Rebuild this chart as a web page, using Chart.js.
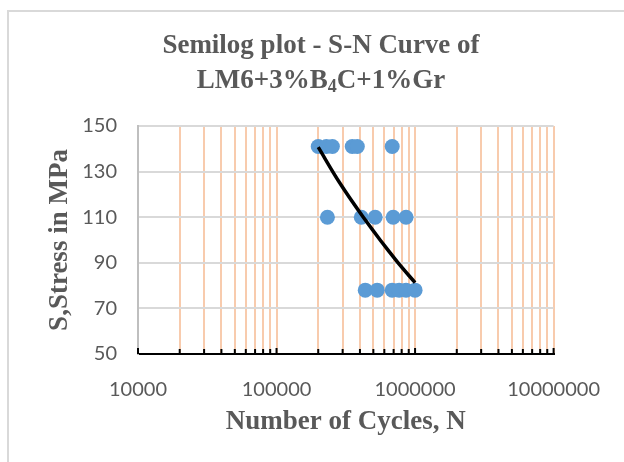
<!DOCTYPE html>
<html>
<head>
<meta charset="UTF-8" />
<title>Semilog plot - S-N Curve</title>
<script src="https://cdn.jsdelivr.net/npm/chart.js@4"></script>
<style>
  body { margin: 0; background: #fff; }
  #wrap { position: relative; width: 624px; height: 462px; overflow: hidden; }
  #frame { position: absolute; left: 7px; top: 10px; width: 700px; height: 500px;
           border-left: 2px solid #d9d9d9; border-top: 2px solid #d9d9d9; }
  #title { position: absolute; left: 0; width: 642px; top: 27px; text-align: center;
           font: bold 27px "Liberation Serif", "Times New Roman", serif; color: #595959; line-height: 35px; }
  #title sub { font-size: 18px; line-height: 0; vertical-align: -4px; }
  canvas { position: absolute; left: 0; top: 0; }
</style>
</head>
<body>
<div id="wrap">
  <div id="frame"></div>
  <canvas id="sn" width="624" height="462"></canvas>
  <div id="title">Semilog plot - S-N Curve of<br>LM6+3%B<sub>4</sub>C+1%Gr</div>
</div>

<script>
// --- data ---
const stressHigh = 141;
const cyclesHigh = [200000, 229000, 253000, 352000, 383000, 684000];
const stressMid = 110;
const cyclesMid = [233000, 409000, 515000, 695000, 861000];
const stressLow = 78;
const cyclesLow = [437000, 533000, 684000, 767000, 861000, 1000000];

// trend curve, read at a few places along the black line
const trendCycles = [200000, 284000, 423000, 742000, 1000000];
const trendStress = [140.7, 125.3, 110.0, 90.5, 81.3];

const decades = [10000, 100000, 1000000];
const multipliers = [1, 2, 3, 4, 5, 6, 7, 8, 9];
const xMin = 10000, xMax = 10000000;
const yMin = 50, yMax = 150, yStep = 20;

// tick values for the log axis: 1..9 in each decade
const xTicks = [];
decades.forEach(d => multipliers.forEach(m => xTicks.push(d * m)));
xTicks.push(xMax);

const points = [];
cyclesHigh.forEach(c => points.push({ x: c, y: stressHigh }));
cyclesMid.forEach(c => points.push({ x: c, y: stressMid }));
cyclesLow.forEach(c => points.push({ x: c, y: stressLow }));

const trend = trendCycles.map((c, i) => ({ x: c, y: trendStress[i] }));

const isMajor = v => Math.abs(Math.log10(v) - Math.round(Math.log10(v))) < 1e-9;

// small tick marks standing inside the plot on the x axis
const innerTicks = {
  id: 'innerTicks',
  afterDatasetsDraw(chart) {
    const x = chart.scales.x;
    const ctx = chart.ctx;
    const base = chart.chartArea.bottom;
    ctx.save();
    ctx.strokeStyle = '#000';
    ctx.lineWidth = 2;
    xTicks.forEach(v => {
      const px = x.getPixelForValue(v);
      const len = isMajor(v) ? 6 : 5;
      ctx.beginPath();
      ctx.moveTo(px, base);
      ctx.lineTo(px, base - len);
      ctx.stroke();
    });
    ctx.restore();
  }
};

const titleFont = { family: '"Liberation Serif", "Times New Roman", serif', size: 27, weight: 'bold' };
const tickFont = { family: 'Lato, "Liberation Sans", sans-serif', size: 20 };

new Chart(document.getElementById('sn'), {
  type: 'scatter',
  data: {
    datasets: [
      {
        type: 'line',
        label: 'Trend',
        data: trend,
        borderColor: '#000',
        borderWidth: 3.5,
        pointRadius: 0,
        cubicInterpolationMode: 'monotone',
        fill: false,
        order: 0
      },
      {
        label: 'S-N data',
        data: points,
        backgroundColor: '#5b9bd5',
        borderColor: '#5b9bd5',
        borderWidth: 0,
        pointRadius: 7.5,
        order: 1
      }
    ]
  },
  options: {
    responsive: false,
    animation: false,
    layout: { padding: { top: 126, right: 69, bottom: 0, left: 0 } },
    plugins: {
      legend: { display: false },
      tooltip: { enabled: false },
      title: { display: false }
    },
    scales: {
      x: {
        type: 'logarithmic',
        min: xMin,
        max: xMax,
        afterBuildTicks: s => { s.ticks = xTicks.map(v => ({ value: v, major: isMajor(v) })); },
        afterFit: s => { s.height = 108; },
        ticks: {
          autoSkip: false,
          maxRotation: 0,
          padding: 24,
          color: '#595959',
          font: tickFont,
          callback: v => isMajor(v) ? String(Math.round(v)) : ''
        },
        grid: {
          drawTicks: false,
          lineWidth: 2,
          color: c => (c.tick && c.tick.value === xMin) ? 'rgba(0,0,0,0)' : '#f8cbad'
        },
        border: { display: true, color: '#000', width: 2 },
        title: {
          display: true,
          text: 'Number of Cycles, N',
          color: '#595959',
          font: titleFont,
          padding: { top: 0, bottom: 24 }
        }
      },
      y: {
        min: yMin,
        max: yMax,
        afterFit: s => { s.width = 138; },
        ticks: {
          stepSize: yStep,
          padding: 21,
          color: '#595959',
          font: tickFont
        },
        grid: { drawTicks: false, color: '#d9d9d9', lineWidth: 2 },
        border: { display: true, color: '#bfbfbf', width: 2 },
        title: {
          display: true,
          text: 'S,Stress in MPa',
          color: '#595959',
          font: titleFont,
          padding: { top: 44, bottom: 0 }
        }
      }
    }
  },
  plugins: [innerTicks]
});
</script>
</body>
</html>
